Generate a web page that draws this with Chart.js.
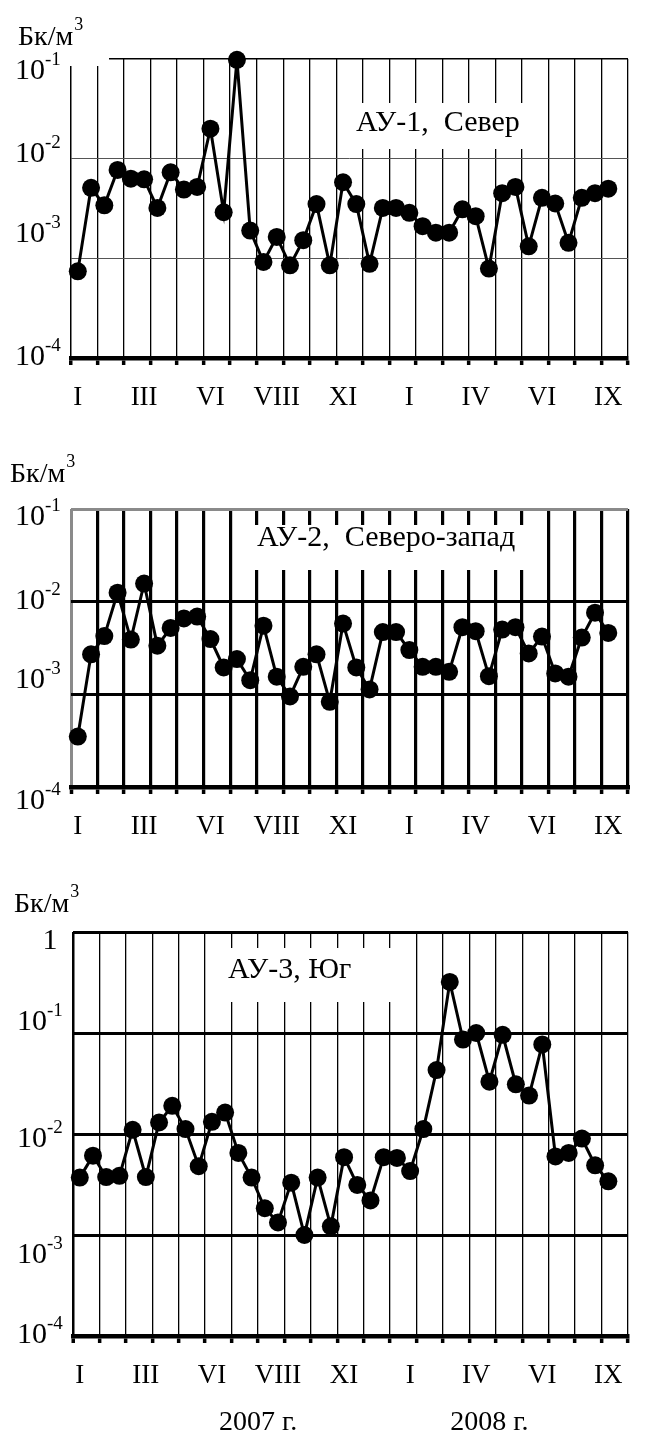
<!DOCTYPE html>
<html>
<head>
<meta charset="utf-8">
<script src="https://cdn.jsdelivr.net/npm/chart.js@4.4.1/dist/chart.umd.min.js"></script>
<style>
  html, body { margin: 0; padding: 0; background: #fff; }
  #wrap { position: relative; width: 645px; height: 1443px; }
  canvas { position: absolute; left: 0; }
</style>
</head>
<body>
<div id="wrap">
  <canvas id="c1" width="645" height="430" style="top:0px"></canvas>
  <canvas id="c2" width="645" height="440" style="top:430px"></canvas>
  <canvas id="c3" width="645" height="573" style="top:870px"></canvas>
</div>
<script>
// month labels under every 5th sample (two samples per month)
const monthLabels = ['I', 'III', 'VI', 'VIII', 'XI', 'I', 'IV', 'VI', 'IX'];
const yearLabels = ['2007 г.', '2008 г.'];
const unitText = 'Бк/м';
const unitSup = '3';

// Бк/м3, samples Jan 2007 - Sep 2008
const au1 = [7.4e-4, 5.1e-3, 3.4e-3, 7.7e-3, 6.3e-3, 6.2e-3, 3.2e-3, 7.3e-3, 4.9e-3, 5.2e-3,
             2.0e-2, 2.9e-3, 9.8e-2, 1.9e-3, 9.2e-4, 1.64e-3, 8.5e-4, 1.52e-3, 3.5e-3, 8.5e-4,
             5.8e-3, 3.5e-3, 8.8e-4, 3.2e-3, 3.2e-3, 2.86e-3, 2.1e-3, 1.81e-3, 1.81e-3, 3.1e-3,
             2.65e-3, 7.9e-4, 4.5e-3, 5.2e-3, 1.32e-3, 4.05e-3, 3.55e-3, 1.43e-3, 4.05e-3, 4.5e-3,
             5.0e-3];
const au2 = [3.5e-4, 2.7e-3, 4.25e-3, 1.25e-2, 3.9e-3, 1.57e-2, 3.35e-3, 5.2e-3, 6.6e-3, 6.9e-3,
             3.95e-3, 1.95e-3, 2.4e-3, 1.42e-3, 5.5e-3, 1.55e-3, 9.5e-4, 1.98e-3, 2.7e-3, 8.3e-4,
             5.8e-3, 1.95e-3, 1.13e-3, 4.7e-3, 4.7e-3, 3.0e-3, 1.98e-3, 1.98e-3, 1.75e-3, 5.3e-3,
             4.8e-3, 1.57e-3, 5.0e-3, 5.3e-3, 2.76e-3, 4.2e-3, 1.68e-3, 1.55e-3, 4.1e-3, 7.6e-3,
             4.6e-3];
const au3 = [3.7e-3, 6.1e-3, 3.75e-3, 3.85e-3, 1.1e-2, 3.75e-3, 1.3e-2, 1.9e-2, 1.12e-2, 4.8e-3,
             1.32e-2, 1.63e-2, 6.5e-3, 3.7e-3, 1.84e-3, 1.33e-3, 3.3e-3, 1.0e-3, 3.7e-3, 1.22e-3,
             5.9e-3, 3.13e-3, 2.2e-3, 5.9e-3, 5.8e-3, 4.3e-3, 1.12e-2, 4.3e-2, 0.32, 8.6e-2,
             0.1, 3.3e-2, 9.6e-2, 3.1e-2, 2.4e-2, 7.7e-2, 6.0e-3, 6.5e-3, 9.0e-3, 4.9e-3,
             3.4e-3];

const FONT = "'Liberation Serif', 'Times New Roman', serif";
const X_MIN = -0.513, X_MAX = 41.487;   // grid lines every 2 samples, offset from the dots

// labelDy: baseline shift of each decade label (from 10^-4 upward), as in the original figure
const panels = [
  { id: 'c1', h: 430, top: 59, bottom: 358, left: 71, yMax: 1e-1, values: au1, title: 'АУ-1,  Север',
    titleX: 356, titleY: 131, box: [346, 103, 190, 46], unitX: 18, unitY: 45,
    labelDy: [7, -16, 3, 20], mask: [60, 50, 49, 16],
    vColor: '#000', vWidth: 1.3, hColor: '#555', hWidth: 1, topColor: '#000', topWidth: 1.5,
    leftColor: '#000', leftWidth: 1.5 },
  { id: 'c2', h: 440, top: 79, bottom: 357, left: 71, yMax: 1e-1, values: au2, title: 'АУ-2,  Северо-запад',
    titleX: 257, titleY: 116, box: [248, 95, 288, 45], unitX: 10, unitY: 52,
    labelDy: [22, -6, 7, 16],
    vColor: '#000', vWidth: 3.2, hColor: '#000', hWidth: 3, topColor: '#8a8a8a', topWidth: 3,
    leftColor: '#8a8a8a', leftWidth: 3 },
  { id: 'c3', h: 573, top: 62, bottom: 466, left: 73, yMax: 1, values: au3, title: 'АУ-3, Юг',
    titleX: 228, titleY: 108, box: [218, 78, 195, 54], unitX: 14, unitY: 42,
    labelDy: [7, 28, 13, -3, 17],
    vColor: '#000', vWidth: 1.3, hColor: '#000', hWidth: 3, topColor: '#000', topWidth: 3,
    leftColor: '#000', leftWidth: 2.5, years: true }
];

function isGridTick(v) {
  return !(Number.isInteger(v) && v % 5 === 0);
}

function makeChart(p) {
  const ctx = document.getElementById(p.id);
  const points = p.values.map((v, i) => ({ x: i, y: v }));

  const decorations = {
    id: 'decorations',
    beforeDatasetsDraw(chart) {
      const c = chart.ctx;
      c.save();
      c.fillStyle = '#fff';
      if (p.mask) c.fillRect(p.mask[0], p.mask[1], p.mask[2], p.mask[3]);
      c.fillRect(p.box[0], p.box[1], p.box[2], p.box[3]);
      c.fillStyle = '#000';
      c.font = '30px ' + FONT;
      c.textBaseline = 'alphabetic';
      c.textAlign = 'left';
      c.fillText(p.title, p.titleX, p.titleY);
      c.restore();
    },
    afterDraw(chart) {
      const c = chart.ctx;
      const ys = chart.scales.y;
      const lx = p.left - 26;
      c.save();
      c.fillStyle = '#000';
      c.textBaseline = 'alphabetic';
      // decade tick labels with superscript exponent
      ys.ticks.forEach((t, i) => {
        const py = ys.getPixelForValue(t.value) + (p.labelDy[i] || 0);
        const e = Math.round(Math.log10(t.value));
        c.font = '30px ' + FONT;
        if (e === 0) {
          c.textAlign = 'center';
          c.fillText('1', lx + 3, py);
        } else {
          c.textAlign = 'right';
          c.fillText('10', lx, py);
          c.font = '19px ' + FONT;
          c.textAlign = 'left';
          c.fillText('-' + Math.abs(e), lx, py - 14);
        }
      });
      // unit label
      c.font = '28px ' + FONT;
      c.textAlign = 'left';
      c.fillText(unitText, p.unitX, p.unitY);
      const w = c.measureText(unitText).width;
      c.font = '18px ' + FONT;
      c.fillText(unitSup, p.unitX + w + 1, p.unitY - 15);
      if (p.years) {
        const xs = chart.scales.x;
        c.font = '28px ' + FONT;
        c.textAlign = 'center';
        c.fillText(yearLabels[0], xs.getPixelForValue(13.5), 560);
        c.fillText(yearLabels[1], xs.getPixelForValue(31), 560);
      }
      c.restore();
    }
  };

  return new Chart(ctx, {
    type: 'line',
    data: {
      datasets: [{
        data: points,
        borderColor: '#000',
        borderWidth: 3,
        backgroundColor: '#000',
        pointBackgroundColor: '#000',
        pointBorderColor: '#000',
        pointRadius: 9,
        pointBorderWidth: 0,
        tension: 0,
        clip: false
      }]
    },
    options: {
      responsive: false,
      animation: false,
      devicePixelRatio: 1,
      layout: { padding: { top: p.top, right: 1, left: 0, bottom: 0 } },
      plugins: { legend: { display: false }, tooltip: { enabled: false } },
      scales: {
        x: {
          type: 'linear',
          min: X_MIN,
          max: X_MAX,
          afterBuildTicks(scale) {
            const vals = [];
            for (let k = 0; k <= 21; k++) vals.push(X_MIN + 2 * k);
            for (let i = 0; i < monthLabels.length; i++) vals.push(i * 5);
            vals.sort((a, b) => a - b);
            scale.ticks = vals.map(v => ({ value: v }));
          },
          afterFit(scale) { scale.height = p.h - p.bottom; },
          ticks: {
            autoSkip: false,
            maxRotation: 0,
            padding: 17,
            color: '#000',
            font: { family: FONT, size: 27 },
            callback: v => isGridTick(v) ? '' : monthLabels[v / 5]
          },
          grid: {
            drawTicks: true,
            tickLength: 7,
            tickWidth: 3.5,
            color: c => !c.tick || !isGridTick(c.tick.value) ? 'rgba(0,0,0,0)'
                        : (c.index === 0 ? p.leftColor : p.vColor),
            lineWidth: c => !c.tick || !isGridTick(c.tick.value) ? 0
                        : (c.index === 0 ? p.leftWidth : p.vWidth),
            tickColor: c => !c.tick || !isGridTick(c.tick.value) ? 'rgba(0,0,0,0)' : '#000'
          },
          border: { display: true, color: '#000', width: 4.5 }
        },
        y: {
          type: 'logarithmic',
          min: 1e-4,
          max: p.yMax,
          afterBuildTicks(scale) {
            const vals = [];
            for (let e = -4; Math.pow(10, e) <= p.yMax * 1.001; e++) vals.push(Math.pow(10, e));
            scale.ticks = vals.map(v => ({ value: v }));
          },
          afterFit(scale) { scale.width = p.left; },
          ticks: { display: false },
          grid: {
            drawTicks: false,
            color: c => c.tick && Math.abs(c.tick.value - p.yMax) < p.yMax * 1e-6 ? p.topColor : p.hColor,
            lineWidth: c => c.tick && Math.abs(c.tick.value - p.yMax) < p.yMax * 1e-6 ? p.topWidth : p.hWidth
          },
          border: { display: false }
        }
      }
    },
    plugins: [decorations]
  });
}

panels.forEach(makeChart);
</script>
</body>
</html>
